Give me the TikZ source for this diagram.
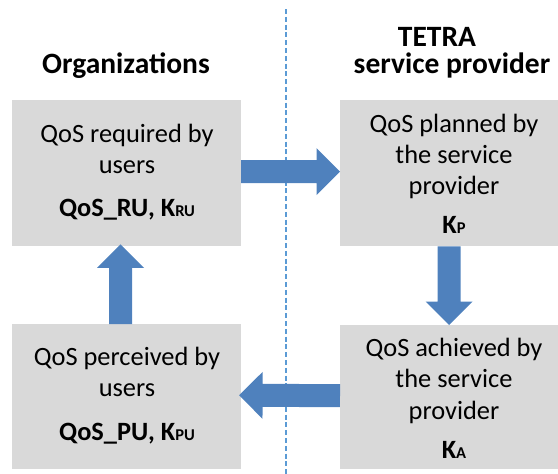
\documentclass[tikz,border=0pt]{standalone}
\usepackage{fontspec}
\setmainfont{Carlito}
\usetikzlibrary{calc}
\definecolor{boxgray}{HTML}{D9D9D9}
\definecolor{arrblue}{HTML}{4F81BD}
\definecolor{lineblue}{HTML}{5B9BD5}
\newcommand{\blockarrow}[2]{%
  \fill[arrblue]
    ($(#1)!11.5pt!90:(#2)$) --
    ($($(#2)!23.5pt!(#1)$)!11.5pt!90:(#2)$) --
    ($($(#2)!23.5pt!(#1)$)!23.5pt!90:(#2)$) --
    (#2) --
    ($($(#2)!23.5pt!(#1)$)!23.5pt!-90:(#2)$) --
    ($($(#2)!23.5pt!(#1)$)!11.5pt!-90:(#2)$) --
    ($(#1)!11.5pt!-90:(#2)$) -- cycle;}
\newcommand{\sm}[1]{{\fontsize{16.5pt}{16.5pt}\selectfont #1}}
\begin{document}
\begin{tikzpicture}[x=1pt,y=-1pt,
  box/.style={fill=boxgray,draw=none,inner sep=0pt,anchor=north west},
  txt/.style={anchor=base,inner sep=0pt,font=\fontsize{26.4pt}{32pt}\selectfont},
  btxt/.style={txt,font=\fontsize{26.4pt}{32pt}\selectfont\bfseries},
  title/.style={anchor=base,inner sep=0pt,font=\fontsize{29.5pt}{35pt}\selectfont\bfseries},
  divider/.style={lineblue,line width=1.3pt,dash pattern=on 5pt off 2.8pt}]
\useasboundingbox (0,0) rectangle (558,474);
% divider
\coordinate (dtop) at (286,9);
\coordinate (dbot) at (286,474);
\draw[divider] (dtop) -- (dbot);
% boxes
\node[box,minimum width=228.7pt,minimum height=146pt] (tl) at (12,100) {};
\node[box,minimum width=218pt,minimum height=146pt] (tr) at (340,100) {};
\node[box,minimum width=228.7pt,minimum height=145pt] (bl) at (12,324) {};
\node[box,minimum width=218pt,minimum height=144pt] (br) at (340,325) {};
% titles
\node[title] (t-org) at (126,73) {Organizations};
\node[title] (t-tetra) at (437,46) {TETRA};
\node[title] (t-sp) at (452,73) {service provider};
% TL text
\node[txt] (tl1) at (127,142) {QoS required by};
\node[txt] (tl2) at (127,173) {users};
\node[btxt] (tl3) at (127,216) {QoS\_RU, K\sm{RU}};
% TR text
\node[txt] (tr1) at (454,132) {QoS planned by};
\node[txt] (tr2) at (454,163) {the service};
\node[txt] (tr3) at (454,194) {provider};
\node[btxt] (tr4) at (454,233) {K\sm{P}};
% BL text
\node[txt] (bl1) at (127,365) {QoS perceived by};
\node[txt] (bl2) at (127,396) {users};
\node[btxt] (bl3) at (127,440) {QoS\_PU, K\sm{PU}};
% BR text
\node[txt] (br1) at (454,356) {QoS achieved by};
\node[txt] (br2) at (454,387) {the service};
\node[txt] (br3) at (454,419) {provider};
\node[btxt] (br4) at (454,458) {K\sm{A}};
% block arrows
\coordinate (ra-s) at ($(tl.east)+(0,-1.5)$);
\coordinate (ra-e) at ($(tr.west)+(0,-1.5)$);
\blockarrow{ra-s}{ra-e}
\coordinate (da-s) at (tr.south);
\coordinate (da-e) at (br.north);
\blockarrow{da-s}{da-e}
\coordinate (la-s) at ($(br.west)+(0,-1.5)$);
\coordinate (la-e) at ($(bl.east)+(-2,-1.5)$);
\blockarrow{la-s}{la-e}
\coordinate (ua-s) at ($(bl.north)+(-6,0)$);
\coordinate (ua-e) at ($(tl.south)+(-6,-2)$);
\blockarrow{ua-s}{ua-e}
\end{tikzpicture}
\end{document}
